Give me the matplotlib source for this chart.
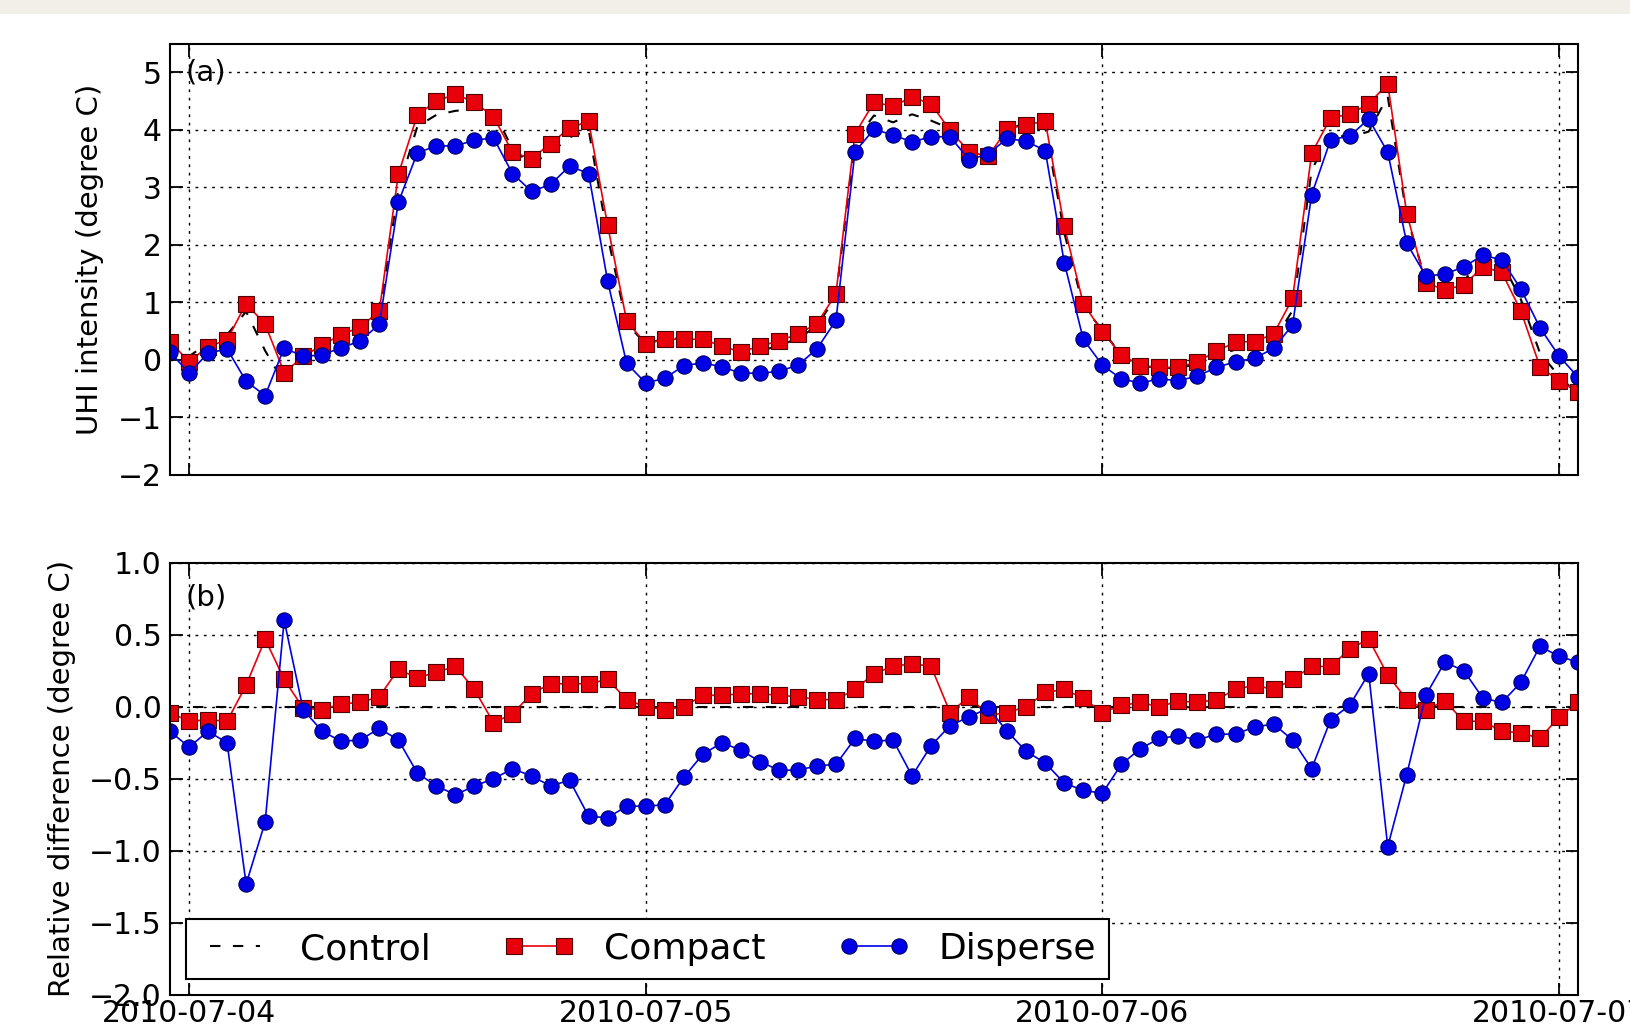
import matplotlib
matplotlib.use("Agg")
import matplotlib.pyplot as plt
import matplotlib.dates as mdates
import pandas as pd
from matplotlib.patches import Rectangle

# hourly samples, 2010-07-03 23:00 .. 2010-07-07 01:00
start_time = "2010-07-03 23:00"
n_hours = 75

# panel (a): UHI intensity (degree C)
control = [0.33, 0.06, 0.30, 0.44, 0.84, 0.16, -0.40, 0.07, 0.27, 0.43, 0.55, 0.77,
           2.97, 4.06, 4.26, 4.33, 4.36, 4.35, 3.66, 3.41, 3.60, 3.87, 4.00, 2.15,
           0.63, 0.28, 0.37, 0.37, 0.28, 0.15, 0.06, 0.15, 0.25, 0.37, 0.59, 1.10,
           3.82, 4.25, 4.13, 4.27, 4.16, 4.02, 3.55, 3.59, 4.03, 4.10, 4.04, 2.21,
           0.93, 0.52, 0.08, -0.12, -0.12, -0.16, -0.05, 0.08, 0.18, 0.17, 0.33, 0.86,
           3.30, 3.93, 3.87, 3.97, 4.58, 2.50, 1.37, 1.18, 1.38, 1.74, 1.70, 1.05,
           0.12, -0.28, -0.60]
compact = [0.32, -0.03, 0.23, 0.35, 0.98, 0.62, -0.22, 0.06, 0.26, 0.44, 0.57, 0.85,
           3.23, 4.26, 4.50, 4.62, 4.48, 4.23, 3.61, 3.50, 3.76, 4.03, 4.15, 2.34,
           0.68, 0.28, 0.36, 0.36, 0.36, 0.24, 0.14, 0.24, 0.33, 0.45, 0.63, 1.15,
           3.93, 4.48, 4.41, 4.57, 4.45, 3.99, 3.62, 3.54, 4.01, 4.09, 4.15, 2.32,
           0.98, 0.49, 0.09, -0.10, -0.13, -0.13, -0.03, 0.15, 0.31, 0.32, 0.45, 1.07,
           3.59, 4.21, 4.27, 4.45, 4.80, 2.54, 1.34, 1.22, 1.30, 1.62, 1.52, 0.85,
           -0.12, -0.36, -0.56]
disperse = [0.14, -0.23, 0.12, 0.19, -0.37, -0.62, 0.21, 0.06, 0.09, 0.21, 0.33, 0.62,
            2.74, 3.60, 3.72, 3.72, 3.82, 3.86, 3.24, 2.93, 3.05, 3.37, 3.24, 1.37,
            -0.06, -0.40, -0.32, -0.10, -0.05, -0.12, -0.23, -0.23, -0.20, -0.09, 0.19, 0.69,
            3.62, 4.01, 3.91, 3.79, 3.88, 3.88, 3.48, 3.58, 3.85, 3.80, 3.64, 1.69,
            0.36, -0.09, -0.33, -0.40, -0.33, -0.36, -0.28, -0.13, -0.03, 0.03, 0.20, 0.61,
            2.87, 3.83, 3.89, 4.19, 3.61, 2.03, 1.46, 1.49, 1.62, 1.82, 1.74, 1.23,
            0.56, 0.07, -0.30]

# panel (b): difference from control (degree C)
control_diff = [0.0] * n_hours
compact_diff = [-0.04, -0.10, -0.09, -0.10, 0.15, 0.47, 0.19, -0.01, -0.02, 0.02, 0.03, 0.07,
                0.26, 0.20, 0.24, 0.28, 0.12, -0.11, -0.05, 0.09, 0.16, 0.16, 0.16, 0.19,
                0.05, 0.00, -0.02, 0.00, 0.08, 0.08, 0.09, 0.09, 0.08, 0.07, 0.05, 0.05,
                0.12, 0.23, 0.28, 0.30, 0.28, -0.04, 0.07, -0.06, -0.04, 0.00, 0.10, 0.12,
                0.06, -0.04, 0.01, 0.03, 0.00, 0.04, 0.03, 0.05, 0.12, 0.15, 0.12, 0.19,
                0.28, 0.28, 0.40, 0.47, 0.22, 0.05, -0.02, 0.04, -0.10, -0.10, -0.17, -0.18,
                -0.22, -0.07, 0.03]
disperse_diff = [-0.17, -0.28, -0.17, -0.25, -1.23, -0.80, 0.60, -0.02, -0.17, -0.24, -0.23, -0.15,
                 -0.23, -0.46, -0.55, -0.61, -0.55, -0.50, -0.43, -0.48, -0.55, -0.51, -0.76, -0.77,
                 -0.69, -0.69, -0.68, -0.49, -0.33, -0.25, -0.30, -0.38, -0.44, -0.44, -0.41, -0.40,
                 -0.22, -0.24, -0.23, -0.48, -0.27, -0.13, -0.07, -0.01, -0.17, -0.31, -0.39, -0.53,
                 -0.58, -0.60, -0.40, -0.29, -0.22, -0.20, -0.23, -0.19, -0.19, -0.14, -0.12, -0.23,
                 -0.43, -0.09, 0.01, 0.23, -0.97, -0.47, 0.08, 0.31, 0.25, 0.06, 0.03, 0.17,
                 0.42, 0.35, 0.31]

series_names = ["Control", "Compact", "Disperse"]
day_ticks = ["2010-07-04", "2010-07-05", "2010-07-06", "2010-07-07"]

times = pd.date_range(start_time, periods=n_hours, freq="h")

plt.rcParams["font.family"] = ["DejaVu Sans"]
plt.rcParams["axes.linewidth"] = 1.5

fig = plt.figure(figsize=(16.3, 10.27), dpi=100)
fig.patches.append(Rectangle((0, 1 - 14 / 1027), 1, 14 / 1027, transform=fig.transFigure,
                             facecolor="#f2efe8", edgecolor="none", zorder=-10))

ax_a = fig.add_axes([0.1043, 0.5375, 0.8638, 0.4201])
ax_b = fig.add_axes([0.1043, 0.0312, 0.8638, 0.4209])

line_kw = dict(lw=1.2, markersize=11, markeredgewidth=0.8)


def draw(ax, c, cp, dp):
    ax.plot(times, c, color="black", linestyle=(0, (5, 6)), lw=1.5, label=series_names[0])
    ax.plot(times, cp, color="#e8000b", marker="s", label=series_names[1],
            markeredgecolor="#500000", **line_kw)
    ax.plot(times, dp, color="#0000e6", marker="o", label=series_names[2],
            markeredgecolor="#000060", **line_kw)
    ax.set_xlim(times[0], times[-1])
    ax.set_xticks(pd.to_datetime(day_ticks))
    ax.xaxis.set_major_formatter(mdates.DateFormatter("%Y-%m-%d"))
    ax.grid(True, color="black", linestyle=(0, (2, 4)), lw=1.0)
    ax.tick_params(direction="in", top=True, right=True, length=9, width=1.3,
                   labelsize=21.5, pad=6)


draw(ax_a, control, compact, disperse)
ax_a.set_ylim(-2, 5.5)
ax_a.set_yticks(range(-2, 6))
ax_a.set_yticklabels(["\u22122", "\u22121", "0", "1", "2", "3", "4", "5"])
ax_a.tick_params(labelbottom=False)
ax_a.set_ylabel("UHI intensity (degree C)", fontsize=21, labelpad=10)
ax_a.text(0.011, 0.933, "(a)", transform=ax_a.transAxes, fontsize=21, va="center")

draw(ax_b, control_diff, compact_diff, disperse_diff)
ax_b.set_ylim(-2.0, 1.0)
b_ticks = [-2.0, -1.5, -1.0, -0.5, 0.0, 0.5, 1.0]
ax_b.set_yticks(b_ticks)
ax_b.set_yticklabels([("%.1f" % t).replace("-", "\u2212") for t in b_ticks])
ax_b.tick_params(axis="x", pad=3)
ax_b.set_ylabel("Relative difference (degree C)", fontsize=21, labelpad=9)
ax_b.text(0.011, 0.92, "(b)", transform=ax_b.transAxes, fontsize=21, va="center")

leg = ax_b.legend(loc="lower left", ncol=3, numpoints=2, fontsize=26, fancybox=False,
                  framealpha=1, edgecolor="black", handlelength=2.0, columnspacing=2.0,
                  borderaxespad=0.45, borderpad=0.35)
leg.get_frame().set_linewidth(1.5)

fig.savefig("out.png", dpi=100)
